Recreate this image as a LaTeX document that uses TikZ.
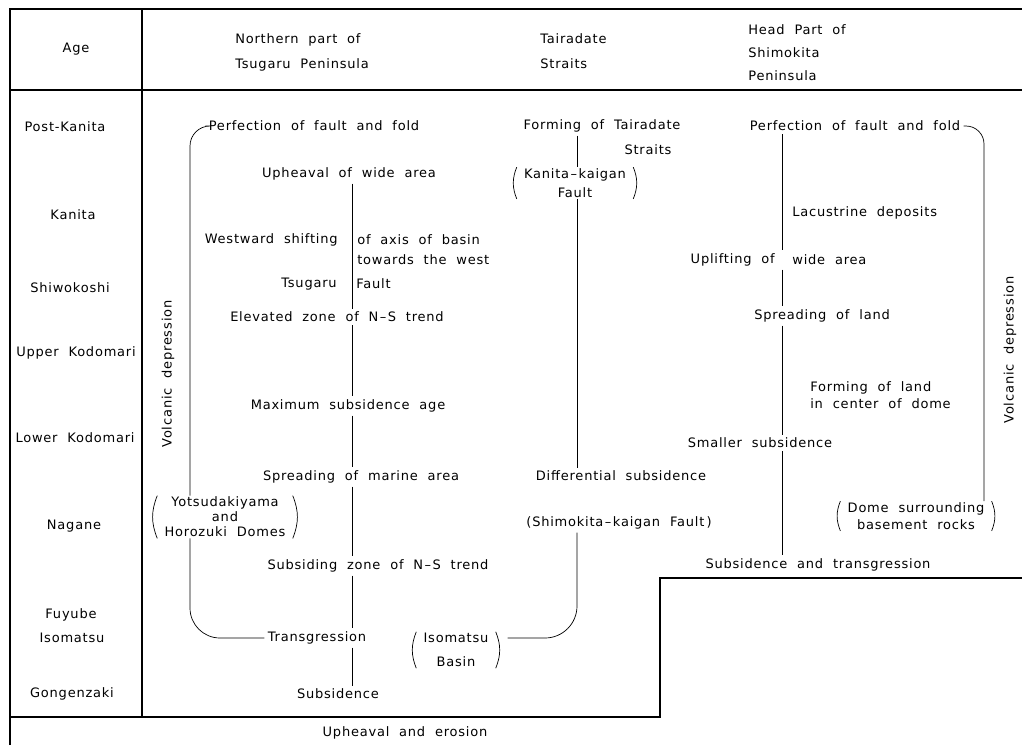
\documentclass[tikz,border=0pt]{standalone}
\usepackage{fontspec}
\setmainfont{DejaVu Sans}[WordSpace=2, LetterSpace=6]
\usepackage{tikz}
\newcommand{\gdash}{\hspace{1.5pt}--\hspace{1.5pt}}

\begin{document}
\begin{tikzpicture}[x=1pt,y=-1pt,line width=0.7pt]
        \tikzset{
            txt/.style={font=\fontsize{13}{#1}\selectfont, inner sep=3pt},
            txt/.default=17,
            parens/.style={txt=#1, align=center, inner xsep=7pt, inner ysep=1pt,
                append after command={
                    (\tikzlastnode.north west) edge[bend right=22] (\tikzlastnode.south west)
                    (\tikzlastnode.north east) edge[bend left=22] (\tikzlastnode.south east)}},
            parens/.default=16,
            rule/.style={line width=1.1pt}
        }
        \useasboundingbox (0,0) rectangle (1022,745);
        % frame of the table
        \draw[rule] (10,745) -- (10,9) -- (1022,9);
        \draw[rule] (10,90) -- (1022,90);
        \draw[rule] (142,9) -- (142,717);
        \draw[rule] (10,717) -- (660,717) -- (660,578) -- (1022,578);
        % spines
        \coordinate (lx) at (190,0);
        \coordinate (nx) at (352,0);
        \coordinate (tx) at (577,0);
        \coordinate (sx) at (782,0);
        \coordinate (rx) at (984,0);
        % headers
        \node[txt] (hage) at (76,49) {Age};
        \node[txt=25, align=left, anchor=west] (hnorth) at (232,52) {Northern part of\\Tsugaru Peninsula};
        \node[txt=25, align=left, anchor=west] (htaira) at (537,51) {Tairadate\\Straits};
        \node[txt=23, align=left, anchor=west] (hshimo) at (745,53) {Head Part of\\Shimokita\\Peninsula};
        % ages
        \foreach \nm/\x/\y/\lab in {agepk/65/127/Post-Kanita, agek/73/215/Kanita,
            ages/70/288/Shiwokoshi, ageuk/76/353/Upper Kodomari, agelk/75/438/Lower Kodomari,
            agen/74/526/Nagane, agef/71/615/Fuyube, agei/72/638/Isomatsu, ageg/72/694/Gongenzaki}
            \node[txt] (\nm) at (\x,\y) {\lab};
        % northern part of Tsugaru
        \node[txt] (nperf) at (314,126) {Perfection of fault and fold};
        \node[txt] (nupheav) at (349,174) {Upheaval of wide area};
        \node[txt, anchor=east] (nwesta) at (341,240) {Westward shifting};
        \node[txt=20, align=left, anchor=west] (nwestb) at (354,250) {of axis of basin\\towards the west};
        \node[txt, anchor=east] (ntsua) at (340,284) {Tsugaru};
        \node[txt, anchor=west] (ntsub) at (353,284) {Fault};
        \node[txt] (nelev) at (337,317) {Elevated zone of N\gdash S trend};
        \node[txt] (nmax) at (348,406) {Maximum subsidence age};
        \node[txt] (nspread) at (361,477) {Spreading of marine area};
        \node[parens=15] (ndomes) at (225,517) {Yotsudakiyama\\and\\Horozuki Domes};
        \node[txt] (nsubz) at (378,566) {Subsiding zone of N\gdash S trend};
        \node[txt] (ntrans) at (317,638) {Transgression};
        \node[txt] (nsubs) at (338,694) {Subsidence};
        \node[txt, rotate=90] (nvolc) at (168,374) {Volcanic depression};
        % Tairadate Straits
        \node[txt] (tform) at (602,126) {Forming of Tairadate};
        \node[txt] (tstraits) at (648,150) {Straits};
        \node[parens=19] (tkanita) at (575,183) {Kanita\gdash kaigan\\Fault};
        \node[txt] (tdiff) at (621,476) {Differential subsidence};
        \node[txt] (tshimo) at (619,523) {(Shimokita\gdash kaigan Fault\,)};
        \node[parens=24] (tbasin) at (456,650) {Isomatsu\\Basin};
        % head part of Shimokita
        \node[txt] (sperf) at (855,126) {Perfection of fault and fold};
        \node[txt, anchor=west] (slacu) at (789,213) {Lacustrine deposits};
        \node[txt, anchor=east] (supa) at (778,260) {Uplifting of};
        \node[txt, anchor=west] (supb) at (789,260) {wide area};
        \node[txt] (sland) at (822,316) {Spreading of land};
        \node[txt, align=left, anchor=west] (sform) at (807,395) {Forming of land\\in center of dome};
        \node[txt] (ssmall) at (760,443) {Smaller subsidence};
        \node[parens=17] (sdome) at (916,516) {Dome surrounding\\basement rocks};
        \node[txt] (ssubtr) at (818,565) {Subsidence and transgression};
        \node[txt, rotate=90] (svolc) at (1010,350) {Volcanic depression};
        \node[txt] (erosion) at (405,733) {Upheaval and erosion};
        % connectors
        \foreach \a/\b in {nupheav/nelev, nelev/nmax, nmax/nspread, nspread/nsubz, nsubz/ntrans, ntrans/nsubs}
            \draw (\a.south -| nx) -- (\b.north -| nx);
        \draw[rounded corners=20pt] (nperf.west) -| (ndomes.north -| lx);
        \draw[rounded corners=30pt] (ndomes.south -| lx) |- (ntrans.west);
        \draw (tform.south -| tx) -- (tkanita.north -| tx);
        \draw (tkanita.south -| tx) -- (tdiff.north -| tx);
        \draw[rounded corners=32pt] (tshimo.south -| tx) |- ([xshift=12pt]tbasin.east |- ntrans);
        \foreach \a/\b in {sperf/supa, supa/sland, sland/ssmall, ssmall/ssubtr}
            \draw (\a.south -| sx) -- (\b.north -| sx);
        \draw[rounded corners=18pt] (sperf.east) -| (sdome.north -| rx);
\end{tikzpicture}
\end{document}
